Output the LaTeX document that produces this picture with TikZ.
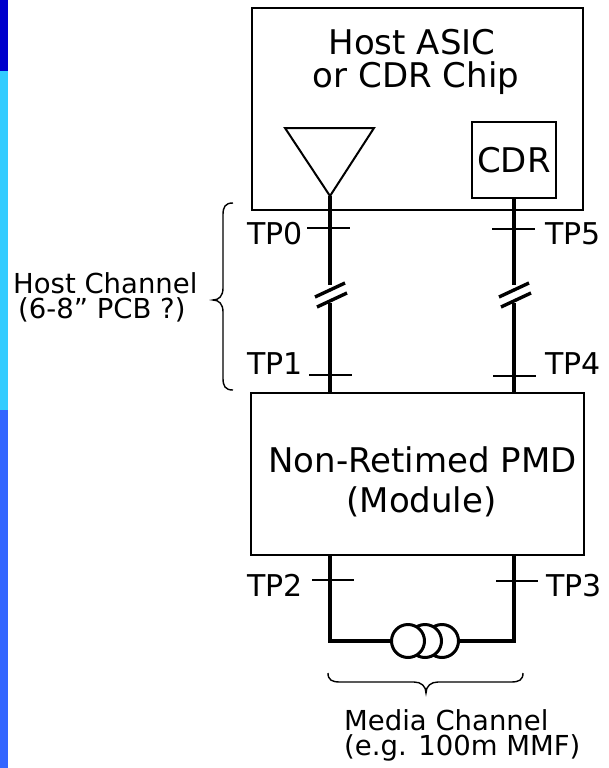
\documentclass[tikz,border=0pt]{standalone}
\usepackage{fontspec}
\setmainfont{DejaVu Sans}
\definecolor{stripA}{HTML}{0000CC}
\definecolor{stripB}{HTML}{33CCFF}
\definecolor{stripC}{HTML}{3366FF}
\tikzset{
  boxline/.style={draw=black, line width=2pt},
  wire/.style={draw=black, line width=3.4pt},
  tick/.style={draw=black, line width=1.8pt},
  big/.style={inner sep=0pt, font=\fontsize{34}{34}\selectfont},
  tplab/.style={inner sep=0pt, font=\fontsize{30}{30}\selectfont, anchor=base west},
  small/.style={inner sep=0pt, font=\fontsize{27.5}{27.5}\selectfont, anchor=base west},
  coil/.style={circle, draw=black, fill=white, line width=3pt, minimum size=33pt, inner sep=0pt},
}
\begin{document}
\begin{tikzpicture}[x=1pt,y=-1pt]
\useasboundingbox (0,0) rectangle (608,768);
\fill[white] (0,0) rectangle (608,768);
% left colour strip
\fill[stripA] (0,0) rectangle (8,71);
\fill[stripB] (0,71) rectangle (8,410);
\fill[stripC] (0,410) rectangle (8,768);

% host chip
\node[boxline, minimum width=331pt, minimum height=202pt, inner sep=0pt] (host) at (417.5,109) {};
\node[big, anchor=base] (hostA) at (412,55) {Host ASIC};
\node[big, anchor=base] (hostB) at (416,88) {or CDR Chip};
% driver triangle
\coordinate (triL) at (285,128);
\coordinate (triR) at (374,128);
\coordinate (apex) at (330,196);
\draw[black, line width=2pt, line join=miter] (triL) -- (triR) -- (apex) -- cycle;
% CDR box
\node[boxline, minimum width=84pt, minimum height=76pt, inner sep=0pt, big] (cdr) at (514,160) {CDR};

% PMD module
\node[boxline, minimum width=333pt, minimum height=162pt, inner sep=0pt] (pmd) at (417.5,474) {};
\node[big, anchor=base] (pmdA) at (422.5,472) {Non-Retimed PMD};
\node[big, anchor=base] (pmdB) at (421.5,512) {(Module)};

% wire coordinates
\coordinate (Lb1) at (330,285);
\coordinate (Lb2) at (330,303);
\coordinate (L1) at (pmd.north -| apex);
\coordinate (Rtop) at (cdr.south);
\coordinate (Rb1) at (514,285);
\coordinate (Rb2) at (514,303);
\coordinate (R1) at (pmd.north -| cdr.south);
\coordinate (L2) at (pmd.south -| apex);
\coordinate (R2) at (pmd.south -| cdr.south);
\coordinate (L3) at (330,641);
\coordinate (R3) at (514,641);

% host channel wires
\draw[wire] (apex) -- (Lb1);
\draw[wire] (Lb2) -- (L1);
\draw[wire] (Rtop) -- (Rb1);
\draw[wire] (Rb2) -- (R1);
% break marks
\draw[wire] (315,297) -- (345,283);
\draw[wire] (317,307) -- (347,293);
\draw[wire] (499,297) -- (529,283);
\draw[wire] (501,307) -- (531,293);

% coil (fibre)
\node[coil] (c3) at (442,641) {};
\node[coil] (c2) at (425,641) {};
\node[coil] (c1) at (408,641) {};
\draw[wire, line join=miter] (L2) -- (L3) -- (c1.west);
\draw[wire, line join=miter] (c3.east) -- (R3) -- (R2);

% test point ticks
\draw[tick] (307,228) -- (350,228);
\draw[tick] (492,229) -- (535,229);
\draw[tick] (309,375) -- (352,375);
\draw[tick] (493,376) -- (536,376);
\draw[tick] (312,580) -- (354,580);
\draw[tick] (496,581) -- (538,581);

% test point labels
\node[tplab] (tp0) at (247,244) {TP0};
\node[tplab] (tp1) at (247,374) {TP1};
\node[tplab] (tp2) at (247,596) {TP2};
\node[tplab] (tp5) at (545,244) {TP5};
\node[tplab] (tp4) at (545,374) {TP4};
\node[tplab] (tp3) at (546,596) {TP3};

% host channel brace
\draw[black, line width=1.4pt] (233,203) .. controls (225,203) and (223,207) .. (223,215)
  -- (223,288) .. controls (223,296) and (219,300) .. (213,300)
  .. controls (219,300) and (223,304) .. (223,312)
  -- (223,378) .. controls (223,386) and (225,390) .. (233,390);
\node[small] (hcA) at (13,293) {Host Channel};
\node[small] (hcB) at (18,318) {(6-8” PCB ?)};

% media channel brace
\draw[black, line width=1.4pt] (328,673) .. controls (328,680) and (332,682) .. (340,682)
  -- (414,682) .. controls (421,682) and (426,686) .. (426,693)
  .. controls (426,686) and (431,682) .. (438,682)
  -- (511,682) .. controls (519,682) and (523,680) .. (523,673);
\node[small] (mcA) at (344,730) {Media Channel};
\node[small] (mcB) at (344,755) {(e.g. 100m MMF)};
\end{tikzpicture}
\end{document}
